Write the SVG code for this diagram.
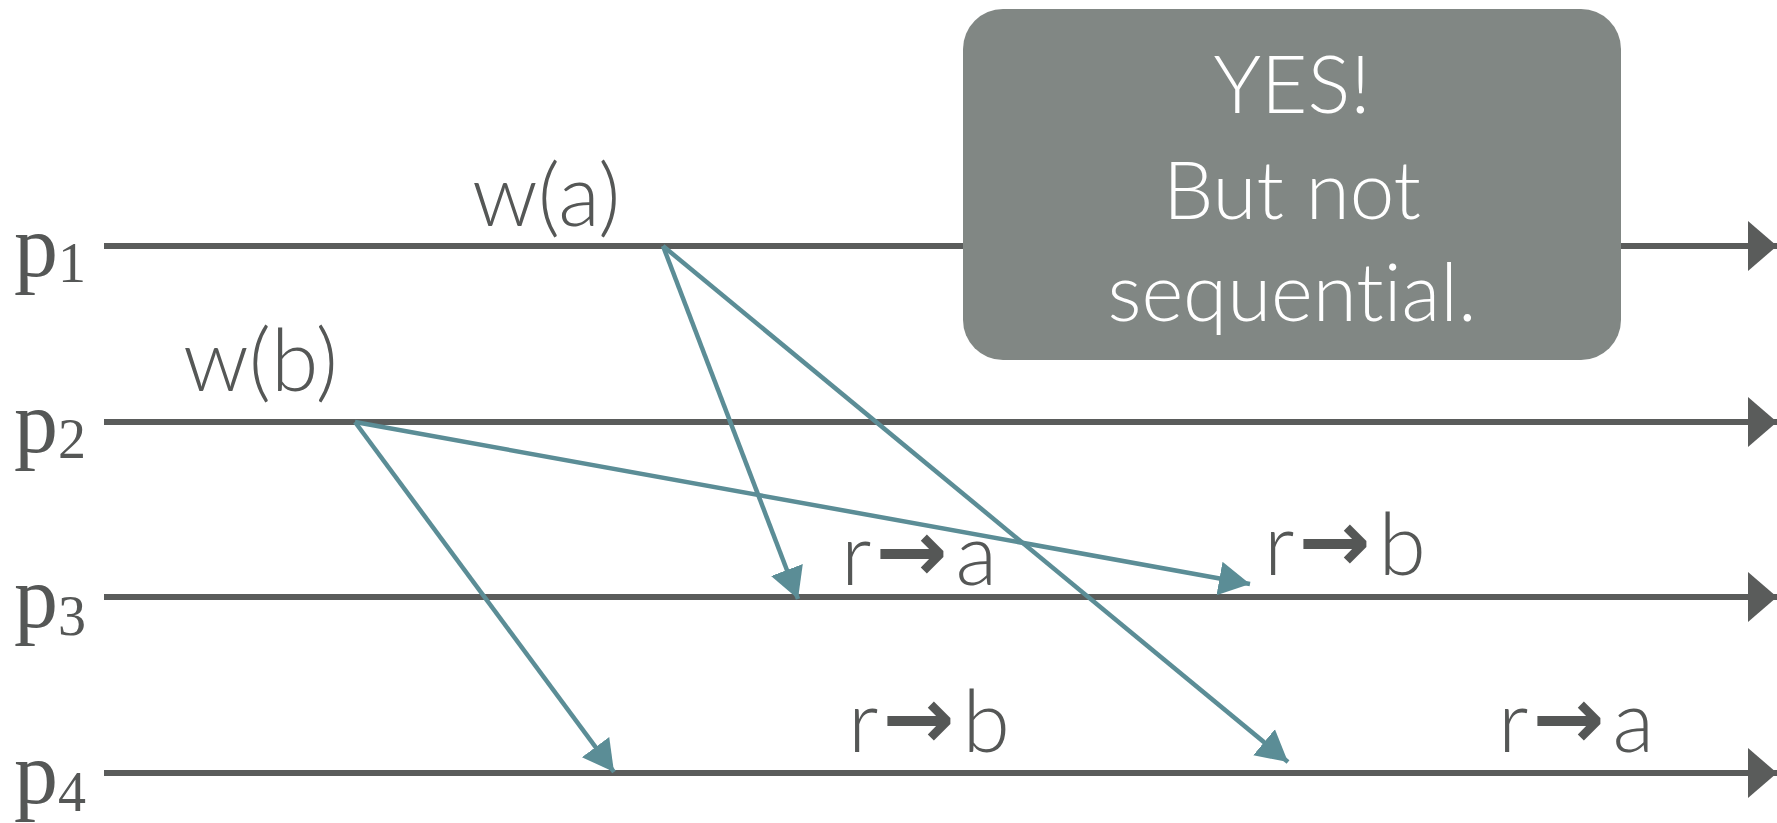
<svg xmlns="http://www.w3.org/2000/svg" width="1777" height="823" viewBox="0 0 1777 823">
<defs>
<style>
.tl{stroke:#5a5c5b;stroke-width:6;fill:none}
.msg{stroke:#5b8d96;stroke-width:4.5;fill:none}
.pl{font-family:"Liberation Serif",serif;font-size:88px;fill:#555756}
.sub{font-size:56px}
.lbl{font-family:Lato,"Open Sans",sans-serif;font-weight:300;font-size:86px;fill:#555756;font-variant-ligatures:none}
.arr{font-family:"DejaVu Sans",sans-serif;font-weight:bold}
.box{fill:#818784}
.bt{font-family:Lato,"Open Sans",sans-serif;font-weight:300;font-size:80px;fill:#ffffff;text-anchor:middle;font-variant-ligatures:none}
</style>
<marker id="tlh" markerUnits="userSpaceOnUse" markerWidth="32" markerHeight="52" refX="29" refY="26" orient="auto">
<path d="M0,1 L29,26 L0,51 Z" fill="#5a5c5b"/>
</marker>
<marker id="mh" markerUnits="userSpaceOnUse" markerWidth="34" markerHeight="40" refX="31" refY="20" orient="auto">
<path d="M0,3 L31,20 L0,37 Z" fill="#5b8d96"/>
</marker>
</defs>
<g id="timelines">
<g id="p1"><line class="tl" x1="104" y1="246" x2="1777" y2="246" marker-end="url(#tlh)"/><text class="pl" x="14" y="276">p<tspan class="sub" dy="6">1</tspan></text></g>
<g id="p2"><line class="tl" x1="104" y1="422" x2="1777" y2="422" marker-end="url(#tlh)"/><text class="pl" x="14" y="452">p<tspan class="sub" dy="6">2</tspan></text></g>
<g id="p3"><line class="tl" x1="104" y1="597" x2="1777" y2="597" marker-end="url(#tlh)"/><text class="pl" x="14" y="627">p<tspan class="sub" dy="8">3</tspan></text></g>
<g id="p4"><line class="tl" x1="104" y1="773" x2="1777" y2="773" marker-end="url(#tlh)"/><text class="pl" x="14" y="803">p<tspan class="sub" dy="8">4</tspan></text></g>
</g>
<g id="connectors">
<line class="msg" x1="663" y1="246" x2="798" y2="599" marker-end="url(#mh)"/>
<line class="msg" x1="663" y1="246" x2="1288" y2="762" marker-end="url(#mh)"/>
<line class="msg" x1="355" y1="422" x2="1250" y2="584" marker-end="url(#mh)"/>
<line class="msg" x1="355" y1="422" x2="614" y2="772" marker-end="url(#mh)"/>
</g>
<g id="wa"><text class="lbl" x="472" y="226">w(a)</text></g>
<g id="wb"><text class="lbl" x="183" y="391">w(b)</text></g>
<g id="r3a"><text class="lbl" x="841" y="585">r<tspan class="arr" dx="4" dy="-4">→</tspan><tspan dx="8" dy="4">a</tspan></text></g>
<g id="r3b"><text class="lbl" x="1264" y="575">r<tspan class="arr" dx="4" dy="-4">→</tspan><tspan dx="8" dy="4">b</tspan></text></g>
<g id="r4b"><text class="lbl" x="848" y="752">r<tspan class="arr" dx="4" dy="-4">→</tspan><tspan dx="8" dy="4">b</tspan></text></g>
<g id="r4a"><text class="lbl" x="1498" y="752">r<tspan class="arr" dx="4" dy="-4">→</tspan><tspan dx="8" dy="4">a</tspan></text></g>
<g id="note">
<rect class="box" x="963" y="9" width="658" height="351" rx="40" ry="40"/>
<text class="bt" x="1292" y="113">YES!</text>
<text class="bt" x="1292" y="219">But not</text>
<text class="bt" x="1292" y="321">sequential.</text>
</g>
</svg>
